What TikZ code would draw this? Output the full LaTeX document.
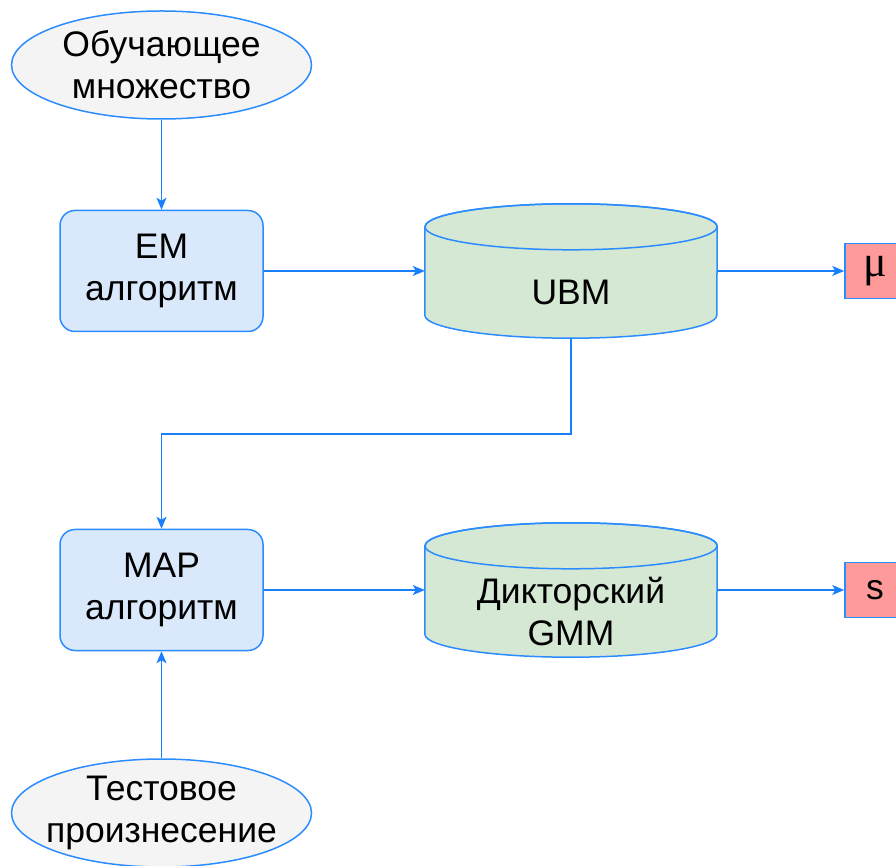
\documentclass[tikz,border=0pt]{standalone}
\usepackage{fontspec}
\setmainfont{Liberation Sans}
\newfontfamily\muserif{Liberation Serif}
\usetikzlibrary{arrows.meta,shapes.geometric,backgrounds}
\definecolor{strokeblue}{HTML}{2B8CFF}
\definecolor{arrowblue}{HTML}{1A7FFF}
\definecolor{ellfill}{HTML}{F4F4F4}
\definecolor{boxfill}{HTML}{DAE8FC}
\definecolor{cylfill}{HTML}{D5E8D4}
\definecolor{outfill}{HTML}{FF9A9A}
\tikzset{
  txt/.style={font=\fontsize{35.5}{42}\selectfont, align=center, text=black},
  ellnode/.style={txt, ellipse, draw=strokeblue, fill=ellfill, line width=1.5pt,
    minimum width=300pt, minimum height=108pt, inner xsep=-40pt, inner ysep=-10pt},
  algbox/.style={txt, rectangle, rounded corners=15pt, draw=strokeblue, fill=boxfill,
    line width=1.5pt, minimum width=203pt, minimum height=121pt, inner sep=0pt},
  cylnode/.style={rectangle, minimum width=292pt, minimum height=134pt, inner sep=0pt},
  cylshape/.style={draw=strokeblue, fill=cylfill, line width=1.5pt},
  outbox/.style={txt, rectangle, draw=strokeblue, fill=outfill, line width=1.5pt,
    minimum width=60pt, minimum height=55pt, inner sep=0pt},
  arr/.style={draw=arrowblue, line width=1.5pt, -{Stealth[length=12pt,width=10pt,inset=3pt]}},
}
\begin{document}
\begin{tikzpicture}[x=1pt,y=1pt]
\useasboundingbox (0,0) rectangle (896,865);
\node[ellnode] (train) at (161.5,800) {Обучающее\\множество};
\node[ellnode] (test) at (161.5,52) {Тестовое\\произнесение};
\node[algbox] (em) at (161.5,594) {EM\\алгоритм};
\node[algbox] (map) at (161.5,275) {MAP\\алгоритм};
\node[cylnode, label={[txt, yshift=-21pt]center:UBM}] (ubm) at (571,594) {};
\node[cylnode, label={[txt, yshift=-21pt]center:Дикторский\\GMM}] (gmm) at (571,275) {};
\node[outbox] (mu) at (875,594) {\muserif\fontsize{44}{44}\selectfont μ};
\node[outbox] (s) at (875,275) {s};
\begin{scope}[on background layer]
\foreach \c in {ubm,gmm}{
  \path[cylshape] ([yshift=-23pt]\c.north west) -- ([yshift=23pt]\c.south west)
    arc[start angle=180, end angle=360, x radius=146pt, y radius=23pt]
    -- ([yshift=-23pt]\c.north east)
    arc[start angle=0, end angle=180, x radius=146pt, y radius=23pt] -- cycle;
  \draw[cylshape, fill=none] ([yshift=-23pt]\c.north) ellipse [x radius=146pt, y radius=23pt];
}
\end{scope}
\draw[arr] (train) -- (em);
\draw[arr] (em) -- (ubm);
\draw[arr] (ubm) -- (mu);
\draw[arr] (ubm.south) -- ++(0,-96) -| (map.north);
\draw[arr] (map) -- (gmm);
\draw[arr] (gmm) -- (s);
\draw[arr] (test) -- (map);
\end{tikzpicture}
\end{document}
